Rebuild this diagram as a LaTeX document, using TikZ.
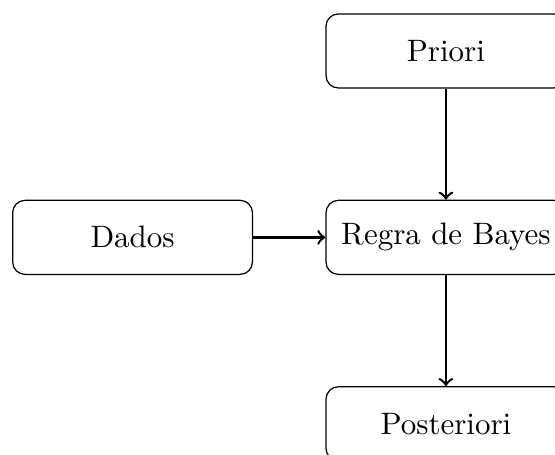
\documentclass[tikz,border=0pt]{standalone}
\usepackage{tikz}
\usetikzlibrary{positioning}

\begin{document}
\begin{tikzpicture}
[->,thick,%
  every node/.style={shape=rectangle,rounded corners,draw,thin,%
    minimum width=2.72cm,minimum height=0.84cm},%
  node distance=1.26cm and 0.82cm]
\useasboundingbox (-143.9pt,-70.2pt) rectangle (35.2pt,76.6pt);
\node (regra) {Regra de Bayes};
\node (priori) [above=of regra] {Priori};
\node (dados) [left=of regra] {Dados};
\node (posteriori) [below=of regra] {Posteriori};
\draw (priori) -- (regra);
\draw (dados) -- (regra);
\draw (regra) -- (posteriori);
\end{tikzpicture}
\end{document}
